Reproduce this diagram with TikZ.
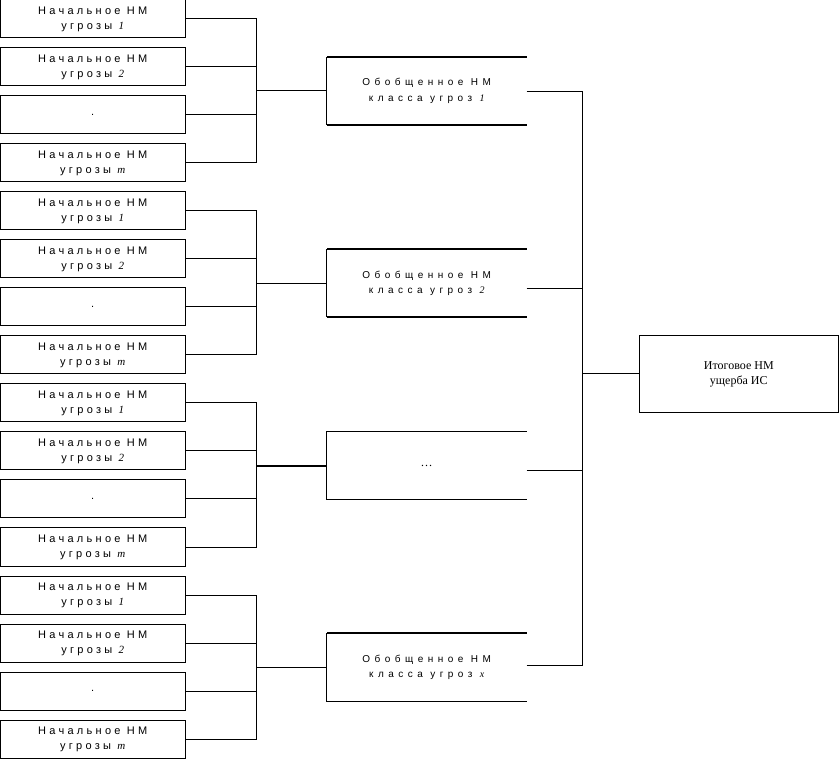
\documentclass[tikz,border=0pt]{standalone}
\usepackage{fontspec}
\setmainfont{Liberation Serif}
\newfontfamily\spsans[LetterSpace=30]{Liberation Sans}
\newfontfamily\spsansb[LetterSpace=45]{Liberation Sans}
\newcommand\leaftext[1]{Начальное НМ\\угрозы {\rmfamily\itshape #1}}
\newcommand\clstext[1]{Обобщенное НМ\\класса угроз {\rmfamily\itshape #1}}
\begin{document}
\begin{tikzpicture}[x=1pt,y=-1pt,line width=1pt,
  leaf/.style={draw, minimum width=184.5pt, minimum height=38pt, inner sep=0pt, align=center,
    font=\spsans\fontsize{11}{15}\selectfont},
  cls/.style={minimum width=198.7pt, minimum height=67pt, inner sep=0pt, align=center,
    font=\spsansb\fontsize{10}{15.5}\selectfont},
  fin/.style={draw, minimum width=199pt, minimum height=77pt, inner sep=0pt, align=center,
    font=\fontsize{12}{15}\selectfont},
  heavy/.style={line width=2pt}]
\useasboundingbox (0,0) rectangle (839,759);

% leaf boxes
\foreach \g in {0,1,2,3}{
  \node[leaf] (b\g0) at (92.75, {192*\g+19}) {\leaftext{1}};
  \node[leaf] (b\g1) at (92.75, {192*\g+67}) {\leaftext{2}};
  \node[leaf] (b\g2) at (92.75, {192*\g+115}) {.};
  \node[leaf] (b\g3) at (92.75, {192*\g+163}) {\leaftext{m}};
}

% class boxes
\node[cls] (c0) at (426.65, 91) {\clstext{1}};
\node[cls] (c1) at (426.65, 283.3) {\clstext{2}};
\node[cls, font=\fontsize{12}{15}\selectfont] (c2) at (426.65, 465.7) {\ldots};
\node[cls] (c3) at (426.65, 667.2) {\clstext{x}};

% bus junctions
\coordinate (j0) at (256.7, 91);
\coordinate (j1) at (256.7, 283.3);
\coordinate (j2) at (256.7, 465.7);
\coordinate (j3) at (256.7, 667.2);

\draw[heavy] (c0.north east) -- (c0.north west);
\draw (c0.north west) -- (c0.south west);
\draw[heavy] (c0.south west) -- (c0.south east);

\draw[heavy] (c1.north east) -- (c1.north west);
\draw (c1.north west) -- (c1.south west);
\draw[heavy] (c1.south west) -- (c1.south east);

\draw (c2.north east) -- (c2.north west) -- (c2.south west) -- (c2.south east);

\draw[heavy] (c3.north east) -- (c3.north west);
\draw (c3.north west) -- (c3.south west) -- (c3.south east);

% leaf connectors
\foreach \g in {0,1,2,3}{
  \foreach \i in {0,1,2,3}{
    \draw (b\g\i.east) -| (j\g);
  }
}
\draw (j0) -- (c0.west);
\draw (j1) -- (c1.west);
\draw[heavy] (j2) -- (c2.west);
\draw (j3) -- (c3.west);

% final box
\node[fin] (f) at (738.8, 374.2) {Итоговое НМ\\ущерба ИС};
\coordinate (jr) at (582.5, 373.3);

\draw ([yshift=-0.7pt]c0.east) -| (jr);
\draw ([yshift=-5pt]c1.east) -| (jr);
\draw ([yshift=-5pt]c2.east) -| (jr);
\draw ([yshift=1.5pt]c3.east) -| (jr);
\draw (jr) -- (jr -| f.west);
\end{tikzpicture}
\end{document}
